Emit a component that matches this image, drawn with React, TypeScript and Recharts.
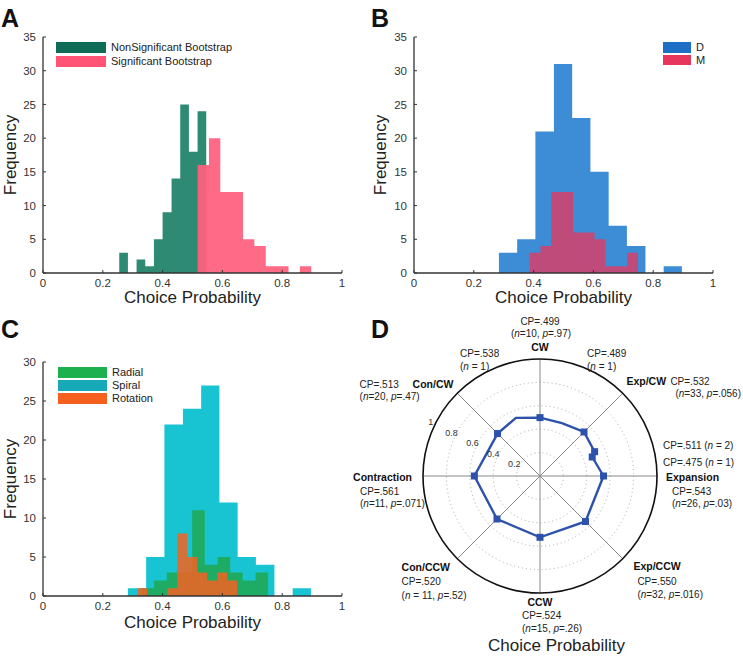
import React from 'react'
import {
  ComposedChart,
  Area,
  XAxis,
  YAxis,
  RadarChart,
  Radar,
  PolarGrid,
  PolarAngleAxis,
  PolarRadiusAxis,
} from 'recharts'

const FONT = '"Liberation Sans", Arial, Helvetica, sans-serif'

// shared axes
const X_TICKS = [0, 0.2, 0.4, 0.6, 0.8, 1]
const Y_TICKS_AB = [0, 5, 10, 15, 20, 25, 30, 35]
const Y_TICKS_C = [0, 5, 10, 15, 20, 25, 30]

// A: bootstrap significance
const A_NONSIG_EDGES = [0.255, 0.284, 0.313, 0.342, 0.371, 0.4, 0.43, 0.459, 0.488, 0.517, 0.546]
const A_NONSIG_COUNTS = [3, 0, 2, 1, 5, 9, 14, 25, 18, 24]
const A_SIG_EDGES = [0.517, 0.555, 0.593, 0.631, 0.669, 0.707, 0.745, 0.783, 0.821, 0.859, 0.897]
const A_SIG_COUNTS = [16, 20, 12, 12, 5, 4, 1, 1, 0, 1]

// B: per monkey
const B_D_EDGES = [0.284, 0.345, 0.406, 0.468, 0.529, 0.59, 0.651, 0.712, 0.774, 0.835, 0.896]
const B_D_COUNTS = [3, 5, 21, 31, 23, 15, 7, 4, 0, 1]
const B_M_EDGES = [0.387, 0.423, 0.459, 0.496, 0.532, 0.568, 0.604, 0.64, 0.677, 0.713, 0.749]
const B_M_COUNTS = [3, 4, 12, 12, 6, 6, 5, 1, 1, 3]

// C: stimulus type
const C_SPIRAL_EDGES = [0.284, 0.345, 0.406, 0.468, 0.529, 0.59, 0.651, 0.712, 0.774, 0.835, 0.896]
const C_SPIRAL_COUNTS = [1, 5, 22, 24, 27, 12, 5, 4, 0, 1]
const C_RADIAL_EDGES = [0.329, 0.371, 0.414, 0.456, 0.499, 0.541, 0.584, 0.626, 0.668, 0.711, 0.753]
const C_RADIAL_COUNTS = [1, 2, 3, 3, 11, 4, 5, 3, 2, 3]
const C_ROT_EDGES = [0.316, 0.349, 0.382, 0.416, 0.449, 0.482, 0.516, 0.549, 0.583, 0.616, 0.649]
const C_ROT_COUNTS = [1, 0, 0, 1, 8, 5, 3, 2, 3, 2]

// D: polar plot, angle in degrees (0 = expansion, counter-clockwise)
const D_POINT_ANGLES = [0, 20, 24, 45, 67.5, 90, 112.5, 135, 180, 225, 270, 315]
const D_POINT_CP = [0.543, 0.475, 0.511, 0.532, 0.489, 0.499, 0.538, 0.513, 0.561, 0.52, 0.524, 0.55]
const D_POINT_N = [26, 1, 2, 33, 1, 10, 1, 20, 11, 11, 15, 32]
const D_POINT_P = ['.03', '', '', '.056', '', '.97', '', '.47', '.071', '.52', '.26', '.016']
const D_POINT_NAME = ['Expansion', '', '', 'Exp/CW', '', 'CW', '', 'Con/CW', 'Contraction', 'Con/CCW', 'CCW', 'Exp/CCW']
const D_DIR_ANGLES = [0, 45, 90, 135, 180, 225, 270, 315]
const D_RADIUS_TICKS = [0.2, 0.4, 0.6, 0.8, 1]

const D_UNMARKED = [67.5, 112.5]
const D_SPACED_N = ['Con/CCW']

type Anchor = 'start' | 'middle' | 'end'
type Pos = [number, number, Anchor]

// label offsets relative to each angle tick
const DIR_LAYOUT: Record<number, { name: Pos; cp: Pos; stats: Pos }> = {
  0: { name: [1, 5, 'start'], cp: [7, 19, 'start'], stats: [7, 31, 'start'] },
  45: { name: [-2, -3, 'start'], cp: [42, -3, 'start'], stats: [47, 9, 'start'] },
  90: { name: [0, 0, 'middle'], cp: [0, -26, 'middle'], stats: [1, -14, 'middle'] },
  135: { name: [-39, 0, 'start'], cp: [-92, 0, 'start'], stats: [-92, 12, 'start'] },
  180: { name: [-3, 5, 'end'], cp: [-55, 19, 'start'], stats: [-55, 31, 'start'] },
  225: { name: [-50, 7, 'start'], cp: [-50, 21, 'start'], stats: [-50, 35, 'start'] },
  270: { name: [0, 5, 'middle'], cp: [-18, 18, 'start'], stats: [-18, 31, 'start'] },
  315: { name: [5, 6, 'start'], cp: [9, 21, 'start'], stats: [9, 34, 'start'] },
}

// the n=1/2 points are labelled next to a neighbouring direction
const EXTRA_LAYOUT = [
  { angle: 112.5, host: 90, dx: -80, dy: 6, inline: false },
  { angle: 67.5, host: 90, dx: 47, dy: 6, inline: false },
  { angle: 24, host: 0, dx: -2, dy: -27, inline: true },
  { angle: 20, host: 0, dx: -2, dy: -10, inline: true },
]

const steps = (edges: number[], counts: number[]) =>
  edges.map((x, i) => ({ x, y: i < counts.length ? counts[i] : 0 }))

const fmtCp = (v: number) => v.toFixed(3).replace(/^0/, '')

type HistSeries = {
  name: string
  edges: number[]
  counts: number[]
  fill: string
  opacity: number
  swatch: string
}

const SERIES_A: HistSeries[] = [
  { name: 'NonSignificant Bootstrap', edges: A_NONSIG_EDGES, counts: A_NONSIG_COUNTS, fill: '#2e8a72', opacity: 1, swatch: '#0f6d57' },
  { name: 'Significant Bootstrap', edges: A_SIG_EDGES, counts: A_SIG_COUNTS, fill: '#ff5f7e', opacity: 0.93, swatch: '#ff5476' },
]
const SERIES_B: HistSeries[] = [
  { name: 'D', edges: B_D_EDGES, counts: B_D_COUNTS, fill: '#3d8dd6', opacity: 1, swatch: '#1c6fc4' },
  { name: 'M', edges: B_M_EDGES, counts: B_M_COUNTS, fill: '#e3385f', opacity: 0.78, swatch: '#e6365e' },
]
const SERIES_C: HistSeries[] = [
  { name: 'Spiral', edges: C_SPIRAL_EDGES, counts: C_SPIRAL_COUNTS, fill: '#19c4d2', opacity: 1, swatch: '#17a9b7' },
  { name: 'Radial', edges: C_RADIAL_EDGES, counts: C_RADIAL_COUNTS, fill: '#1fab5e', opacity: 0.95, swatch: '#1cb04f' },
  { name: 'Rotation', edges: C_ROT_EDGES, counts: C_ROT_COUNTS, fill: '#ee6424', opacity: 0.88, swatch: '#f6601f' },
]

type HistProps = {
  series: HistSeries[]
  yTicks: number[]
  left: number
  top: number
  width: number
  height: number
  marginTop: number
  marginRight: number
  yAxisWidth: number
  xAxisHeight: number
  xLabelOffset: number
}

function HistPanel(p: HistProps) {
  const yMax = p.yTicks[p.yTicks.length - 1]
  return (
    <div style={{ position: 'absolute', left: p.left, top: p.top }}>
      <ComposedChart
        width={p.width}
        height={p.height}
        margin={{ top: p.marginTop, right: p.marginRight, bottom: 0, left: 0 }}
      >
        <XAxis
          dataKey='x'
          type='number'
          domain={[0, 1]}
          ticks={X_TICKS}
          height={p.xAxisHeight}
          tickSize={-3}
          tickMargin={9}
          axisLine={{ stroke: '#333', strokeWidth: 1.3 }}
          tickLine={{ stroke: '#333' }}
          tick={{ fontSize: 11.5, fill: '#333' }}
          label={{
            value: 'Choice Probability',
            position: 'insideBottom',
            offset: p.xLabelOffset,
            style: { fontSize: 17, fill: '#222' },
          }}
        />
        <YAxis
          type='number'
          domain={[0, yMax]}
          ticks={p.yTicks}
          width={p.yAxisWidth}
          tickSize={-3}
          tickMargin={10}
          axisLine={{ stroke: '#333', strokeWidth: 1.3 }}
          tickLine={{ stroke: '#333' }}
          tick={{ fontSize: 11.5, fill: '#333' }}
          label={{
            value: 'Frequency',
            angle: -90,
            position: 'insideLeft',
            offset: 10,
            style: { fontSize: 17, fill: '#222', textAnchor: 'middle' },
          }}
        />
        {p.series.map((s) => (
          <Area
            key={s.name}
            name={s.name}
            data={steps(s.edges, s.counts)}
            dataKey='y'
            type='stepAfter'
            fill={s.fill}
            fillOpacity={s.opacity}
            stroke='none'
            isAnimationActive={false}
          />
        ))}
      </ComposedChart>
    </div>
  )
}

function SwatchLegend({ series, left, top, swatchW, pitch }: { series: HistSeries[]; left: number; top: number; swatchW: number; pitch: number }) {
  return (
    <div style={{ position: 'absolute', left, top, fontSize: 11, color: '#222' }}>
      {series.map((s, i) => (
        <div key={s.name} style={{ position: 'absolute', top: i * pitch, left: 0, display: 'flex', alignItems: 'center', whiteSpace: 'nowrap', height: 10.5 }}>
          <div style={{ width: swatchW, height: 10.5, background: s.swatch }} />
          <span style={{ marginLeft: 5, lineHeight: '10.5px' }}>{s.name}</span>
        </div>
      ))}
    </div>
  )
}

function StatsText({ n, p, spaced }: { n: number; p: string; spaced: boolean }) {
  const eq = spaced ? ' = ' : '='
  return (
    <>
      {'('}
      <tspan fontStyle='italic'>n</tspan>
      {eq + n}
      {p ? ', ' : ''}
      {p ? <tspan fontStyle='italic'>p</tspan> : null}
      {p ? '=' + p : ''}
      {')'}
    </>
  )
}

function DirTick(props: any) {
  const { x, y, payload } = props
  const a = payload?.value
  const i = D_POINT_ANGLES.indexOf(a)
  const lay = DIR_LAYOUT[a]
  if (i < 0 || !lay) return <g />
  const txt = { fill: '#222', fontSize: 10 }
  const extras = EXTRA_LAYOUT.filter((e) => e.host === a)
  return (
    <g>
      <text x={x + lay.name[0]} y={y + lay.name[1]} textAnchor={lay.name[2]} fontWeight='bold' fontSize={10.5} fill='#111'>
        {D_POINT_NAME[i]}
      </text>
      <text x={x + lay.cp[0]} y={y + lay.cp[1]} textAnchor={lay.cp[2]} {...txt}>
        {'CP=' + fmtCp(D_POINT_CP[i])}
      </text>
      <text x={x + lay.stats[0]} y={y + lay.stats[1]} textAnchor={lay.stats[2]} {...txt}>
        <StatsText n={D_POINT_N[i]} p={D_POINT_P[i]} spaced={D_SPACED_N.includes(D_POINT_NAME[i])} />
      </text>
      {extras.map((e) => {
        const j = D_POINT_ANGLES.indexOf(e.angle)
        if (e.inline) {
          return (
            <text key={e.angle} x={x + e.dx} y={y + e.dy} textAnchor='start' {...txt}>
              {'CP=' + fmtCp(D_POINT_CP[j]) + ' '}
              <StatsText n={D_POINT_N[j]} p={D_POINT_P[j]} spaced />
            </text>
          )
        }
        return (
          <g key={e.angle}>
            <text x={x + e.dx} y={y + e.dy} textAnchor='start' {...txt}>
              {'CP=' + fmtCp(D_POINT_CP[j])}
            </text>
            <text x={x + e.dx} y={y + e.dy + 13} textAnchor='start' {...txt}>
              <StatsText n={D_POINT_N[j]} p={D_POINT_P[j]} spaced />
            </text>
          </g>
        )
      })}
    </g>
  )
}

function RadiusTick(props: any) {
  const { x, y, payload } = props
  return (
    <text x={x - 5} y={y + 2} textAnchor='middle' fontSize={9} fill='#333'>
      {payload?.value}
    </text>
  )
}

function Marker(props: any) {
  const { cx, cy, index } = props
  if (cx == null || D_UNMARKED.includes(D_POINT_ANGLES[index])) return <g key={'m' + index} />
  return <rect key={'m' + index} x={cx - 3.5} y={cy - 3.5} width={7} height={7} fill='#2c52ab' />
}

function PolarPanel() {
  const data = D_POINT_ANGLES.map((angle, i) => ({ angle, cp: D_POINT_CP[i] }))
  return (
    <div style={{ position: 'absolute', left: 340, top: 300 }}>
      <RadarChart
        width={403}
        height={360}
        data={data}
        cx={200}
        cy={176}
        outerRadius={117}
        startAngle={0}
        endAngle={360}
        margin={{ top: 0, right: 0, bottom: 0, left: 0 }}
      >
        <PolarGrid gridType='circle' radialLines={false} stroke='#aaa' strokeDasharray='1 3' />
        <PolarGrid gridType='circle' polarRadius={[]} stroke='#888' />
        <PolarRadiusAxis
          type='number'
          domain={[0, 1]}
          ticks={D_RADIUS_TICKS}
          angle={153}
          axisLine={false}
          tick={<RadiusTick />}
        />
        <PolarAngleAxis
          dataKey='angle'
          type='number'
          domain={[0, 360]}
          ticks={D_DIR_ANGLES}
          tickLine={false}
          axisLineType='circle'
          axisLine={{ stroke: '#111', strokeWidth: 1.6 }}
          tick={<DirTick />}
        />
        <Radar
          dataKey='cp'
          stroke='#2c52ab'
          strokeWidth={2.4}
          fill='none'
          fillOpacity={0}
          dot={<Marker />}
          isAnimationActive={false}
        />
      </RadarChart>
    </div>
  )
}

const letter = (l: string, left: number, top: number) => (
  <div style={{ position: 'absolute', left, top, fontSize: 25, fontWeight: 'bold', lineHeight: '25px', color: '#111' }}>{l}</div>
)

export default function App() {
  return (
    <div style={{ position: 'absolute', left: 0, top: 0, width: 743, height: 660, background: '#fff', fontFamily: FONT, overflow: 'hidden' }}>
      <HistPanel series={SERIES_A} yTicks={Y_TICKS_AB} left={0} top={0} width={370} height={310}
        marginTop={37} marginRight={28} yAxisWidth={43} xAxisHeight={37} xLabelOffset={7} />
      <HistPanel series={SERIES_B} yTicks={Y_TICKS_AB} left={370} top={0} width={373} height={310}
        marginTop={37} marginRight={30} yAxisWidth={44} xAxisHeight={37} xLabelOffset={7} />
      <HistPanel series={SERIES_C} yTicks={Y_TICKS_C} left={0} top={310} width={370} height={350}
        marginTop={52} marginRight={28} yAxisWidth={43} xAxisHeight={64} xLabelOffset={32} />
      <PolarPanel />
      <SwatchLegend series={SERIES_A} left={56} top={42} swatchW={50} pitch={14} />
      <SwatchLegend series={SERIES_B} left={663} top={42} swatchW={28} pitch={12.6} />
      <SwatchLegend series={[SERIES_C[1], SERIES_C[0], SERIES_C[2]]} left={58} top={367} swatchW={49} pitch={13} />
      <div style={{ position: 'absolute', left: 488, top: 637, fontSize: 17, lineHeight: '17px', color: '#222', whiteSpace: 'nowrap' }}>
        Choice Probability
      </div>
      {letter('A', 1, 6)}
      {letter('B', 371, 6)}
      {letter('C', 1, 317)}
      {letter('D', 371, 317)}
    </div>
  )
}
